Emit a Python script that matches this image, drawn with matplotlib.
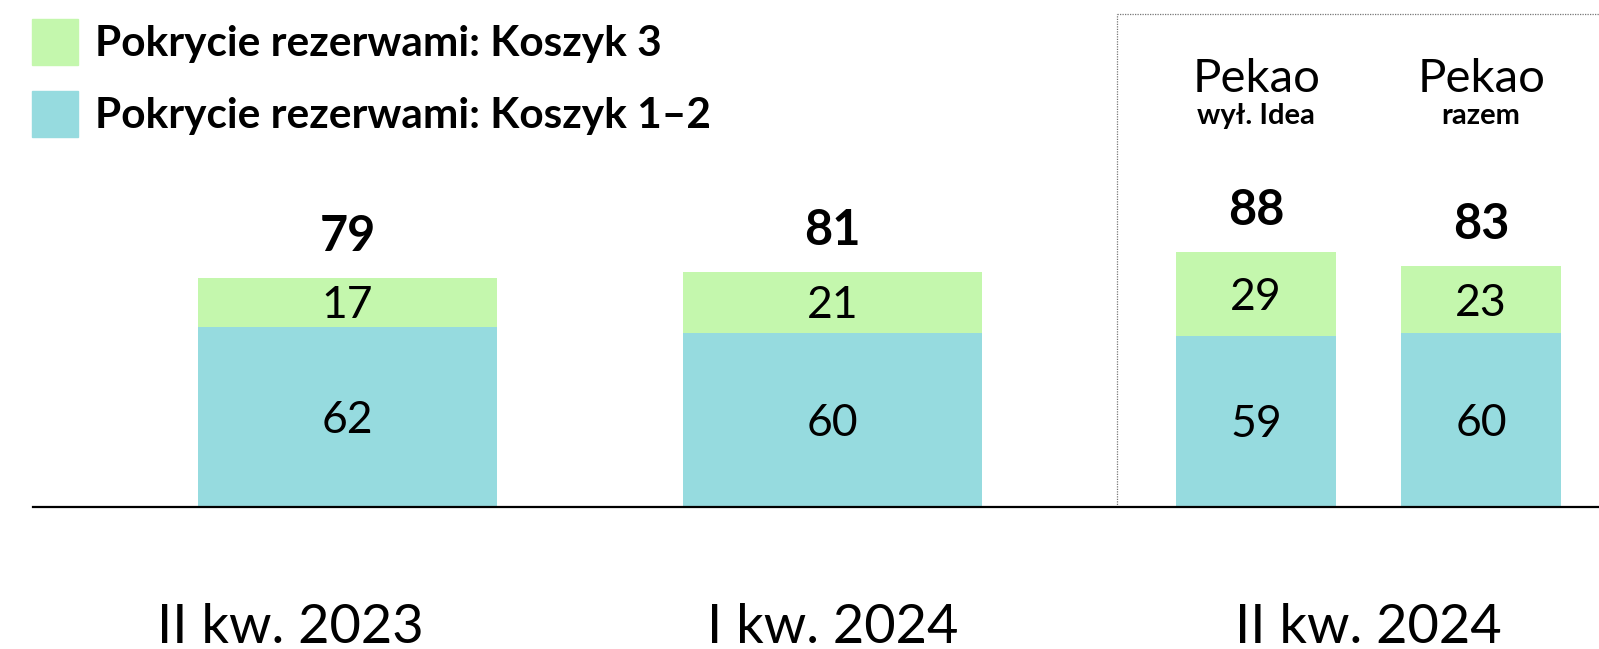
import numpy as np
import matplotlib
matplotlib.use("Agg")
import matplotlib.pyplot as plt

# data
bar_ids = ["II kw. 2023", "I kw. 2024", "Pekao wył. Idea", "Pekao razem"]
koszyk_12 = [62, 60, 59, 60]
koszyk_3 = [17, 21, 29, 23]
period_labels = ["II kw. 2023", "I kw. 2024", "II kw. 2024"]
group_titles = ["Pekao", "Pekao"]
group_subtitles = ["wył. Idea", "razem"]
legend_labels = ["Pokrycie rezerwami: Koszyk 3", "Pokrycie rezerwami: Koszyk 1–2"]

# layout (bar slots, not data)
pos = np.array([0.0, 1.0, 1.873, 2.337])
width = np.array([0.617, 0.617, 0.33, 0.33])
period_pos = [-0.118, 1.0, 2.105]

GREEN = "#C4F7AD"
BLUE = "#96DBDF"
plt.rcParams["font.family"] = ["Lato", "DejaVu Sans"]

fig = plt.figure(figsize=(15.99, 6.49), dpi=100)
ax = fig.add_axes([0, 0, 1, 1])
ax.set_xlim(-0.7165, 2.580)
ax.set_ylim(-49.0, 174.8)
ax.axis("off")

low = np.array(koszyk_12)
high = np.array(koszyk_3)
tot = low + high
ax.bar(pos, low, width, color=BLUE, linewidth=0)
ax.bar(pos, high, width, bottom=low, color=GREEN, linewidth=0)

for x, a, b, t in zip(pos, low, high, tot):
    ax.annotate(str(a), (x, a / 2), xytext=(0, -11.5), textcoords="offset points",
                ha="center", va="baseline", fontsize=32)
    ax.annotate(str(b), (x, a + b / 2), xytext=(0, -11.5), textcoords="offset points",
                ha="center", va="baseline", fontsize=32)
    ax.annotate(str(t), (x, t), xytext=(0, 19.5), textcoords="offset points",
                ha="center", va="baseline", fontsize=35, fontweight="bold")

# baseline
ax.axhline(0, xmin=33 / 1599, xmax=1, color="black", lw=1.6, zorder=3)

# dotted box around the current quarter
box_x = (pos[2] - width[2] / 2) - 0.121
y0 = 49.0 / (174.8 + 49.0)
top = 1 - 14 / 649
ax.axvline(box_x, ymin=y0, ymax=top, color="#777777", lw=0.9, ls=(0, (1, 1)))
ax.axhline(174.8 - (174.8 + 49.0) * 14 / 649, xmin=(box_x + 0.7165) / 3.2965, xmax=1,
           color="#777777", lw=0.9, ls=(0, (1, 1)))

trans = ax.get_xaxis_transform()
# group headers
for x, t, s in zip(pos[2:], group_titles, group_subtitles):
    ax.text(x, 1 - 92 / 649, t, transform=trans, ha="center", va="baseline",
            fontsize=34, fontweight="normal")
    ax.text(x, 1 - 124 / 649, s, transform=trans, ha="center", va="baseline",
            fontsize=21, fontweight="bold")

# period labels
for x, lab in zip(period_pos, period_labels):
    ax.text(x, 6 / 649, lab, transform=trans, ha="center", va="baseline",
            fontsize=39, fontweight="normal")

# legend
for i, (lab, col) in enumerate(zip(legend_labels, [GREEN, BLUE])):
    yc = 1 - (42 + 72 * i) / 649
    fig.patches.append(plt.Rectangle((32 / 1599, yc - 23 / 649), 46 / 1599, 46 / 649,
                                     transform=fig.transFigure, color=col))
    fig.text(95 / 1599, yc - 14 / 649, lab, ha="left", va="baseline",
             fontsize=30.5, fontweight="bold")

fig.savefig("out.png", dpi=100, facecolor="white")
